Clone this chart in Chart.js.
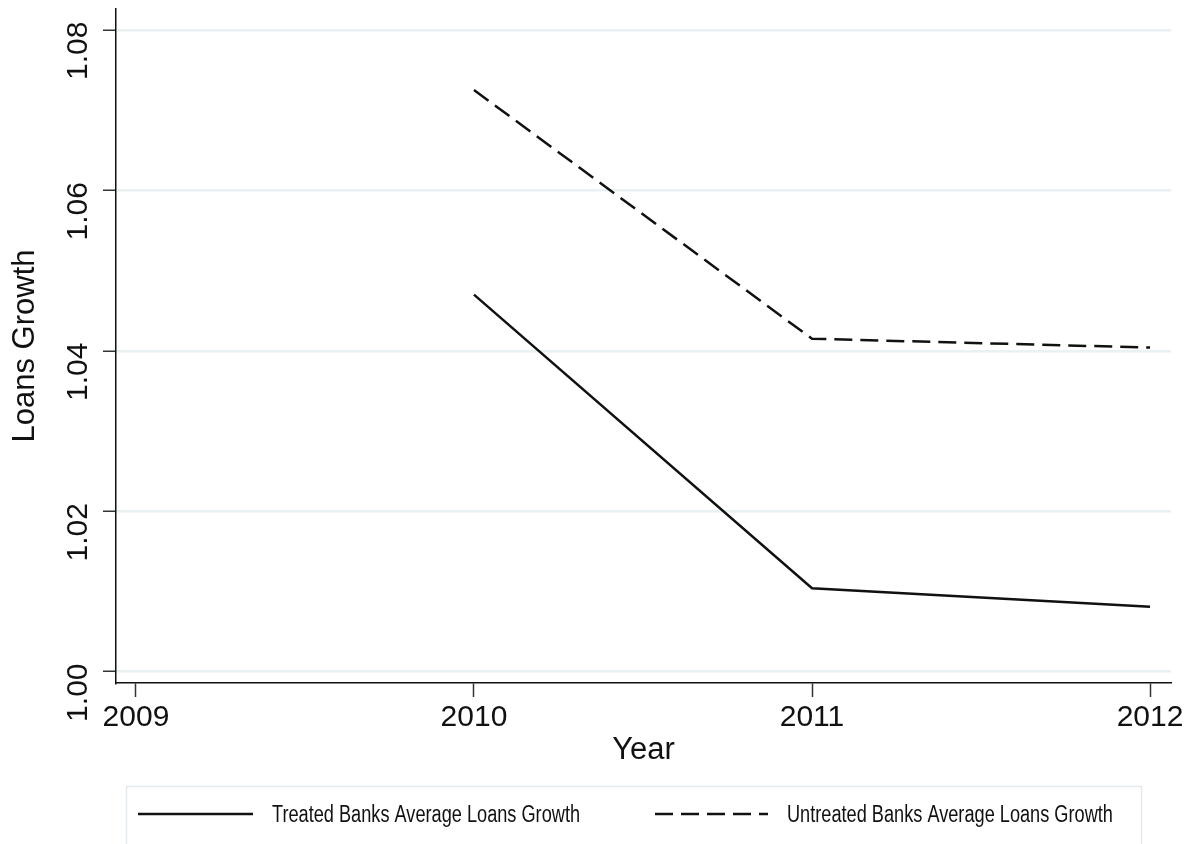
<!DOCTYPE html>
<html>
<head>
<meta charset="utf-8">
<script src="https://cdn.jsdelivr.net/npm/chart.js@4.4.0/dist/chart.umd.min.js"></script>
<style>
  html, body { margin: 0; padding: 0; background: #fff; }
  canvas { display: block; }
</style>
</head>
<body>
<canvas id="loans-chart" width="1198" height="844"></canvas>
<script>
const years = [2010, 2011, 2012];
const treatedGrowth = [1.0470, 1.0104, 1.0081];
const untreatedGrowth = [1.0725, 1.0415, 1.0404];
const xTickYears = [2009, 2010, 2011, 2012];
const yTickValues = [1.00, 1.02, 1.04, 1.06, 1.08];
const seriesLabels = ['Treated Banks Average Loans Growth', 'Untreated Banks Average Loans Growth'];

const mainFont = "'Liberation Sans', Arial, sans-serif";

// y tick labels are rotated and sit a bit below their tick (Stata style)
const yLabelPlugin = {
  id: 'yLabels',
  afterDraw(chart) {
    const ctx = chart.ctx;
    const y = chart.scales.y;
    ctx.save();
    ctx.fillStyle = '#111';
    ctx.font = '30px ' + mainFont;
    ctx.textAlign = 'center';
    ctx.textBaseline = 'middle';
    y.ticks.forEach(t => {
      const py = y.getPixelForValue(t.value);
      ctx.save();
      ctx.translate(79, py + 21);
      ctx.rotate(-Math.PI / 2);
      ctx.fillText(t.value.toFixed(2), 0, 0);
      ctx.restore();
    });
    ctx.restore();
  }
};

// legend box under the plot, narrow text like the original
const legendBoxPlugin = {
  id: 'legendBox',
  afterDraw(chart) {
    const ctx = chart.ctx;
    ctx.save();
    ctx.strokeStyle = '#e3eaef';
    ctx.lineWidth = 1.5;
    ctx.strokeRect(126.5, 786.5, 1015, 80);
    const items = [
      { x0: 138, x1: 253, tx: 272 },
      { x0: 655, x1: 768, tx: 787 }
    ];
    chart.data.datasets.forEach((ds, i) => {
      const it = items[i];
      ctx.beginPath();
      ctx.strokeStyle = ds.borderColor;
      ctx.lineWidth = ds.borderWidth;
      ctx.setLineDash(ds.borderDash || []);
      ctx.moveTo(it.x0, 814);
      ctx.lineTo(it.x1, 814);
      ctx.stroke();
      ctx.setLineDash([]);
      ctx.save();
      ctx.translate(it.tx, 816);
      ctx.scale(0.79, 1);
      ctx.fillStyle = '#111';
      ctx.font = '23px ' + mainFont;
      ctx.textAlign = 'left';
      ctx.textBaseline = 'middle';
      ctx.fillText(ds.label, 0, 0);
      ctx.restore();
    });
    ctx.restore();
  }
};

new Chart(document.getElementById('loans-chart'), {
  type: 'line',
  data: {
    datasets: [
      {
        label: seriesLabels[0],
        data: years.map((yr, i) => ({ x: yr, y: treatedGrowth[i] })),
        borderColor: '#111',
        borderWidth: 2.5,
        pointRadius: 0,
        tension: 0
      },
      {
        label: seriesLabels[1],
        data: years.map((yr, i) => ({ x: yr, y: untreatedGrowth[i] })),
        borderColor: '#111',
        borderWidth: 2.5,
        borderDash: [18, 8],
        pointRadius: 0,
        tension: 0
      }
    ]
  },
  options: {
    responsive: false,
    animation: false,
    devicePixelRatio: 1,
    layout: { padding: { top: 9, right: 27, bottom: 75, left: 0 } },
    plugins: {
      legend: { display: false },
      tooltip: { enabled: false }
    },
    scales: {
      x: {
        type: 'linear',
        min: 2008.941,
        max: 2012.062,
        afterBuildTicks: s => { s.ticks = xTickYears.map(v => ({ value: v })); },
        afterFit: s => { s.height = 86; },
        ticks: {
          callback: v => String(v),
          color: '#111',
          font: { family: mainFont, size: 30 },
          padding: 3,
          maxRotation: 0
        },
        grid: {
          drawOnChartArea: false,
          drawTicks: true,
          tickLength: 14,
          tickColor: '#333',
          tickWidth: 1.5
        },
        border: { color: '#111', width: 1.5 },
        title: {
          display: true,
          text: 'Year',
          color: '#111',
          font: { family: mainFont, size: 31 },
          padding: 0
        }
      },
      y: {
        type: 'linear',
        min: 0.99859,
        max: 1.0826,
        afterBuildTicks: s => { s.ticks = yTickValues.map(v => ({ value: v })); },
        afterFit: s => { s.width = 116; },
        ticks: { display: false },
        grid: {
          color: '#eaf1f3',
          lineWidth: 2.5,
          drawTicks: true,
          tickLength: 13,
          tickColor: '#333',
          tickWidth: 1.5
        },
        border: { color: '#111', width: 1.5 },
        title: {
          display: true,
          text: 'Loans Growth',
          color: '#111',
          font: { family: mainFont, size: 31 },
          padding: 7
        }
      }
    }
  },
  plugins: [yLabelPlugin, legendBoxPlugin]
});
</script>
</body>
</html>
